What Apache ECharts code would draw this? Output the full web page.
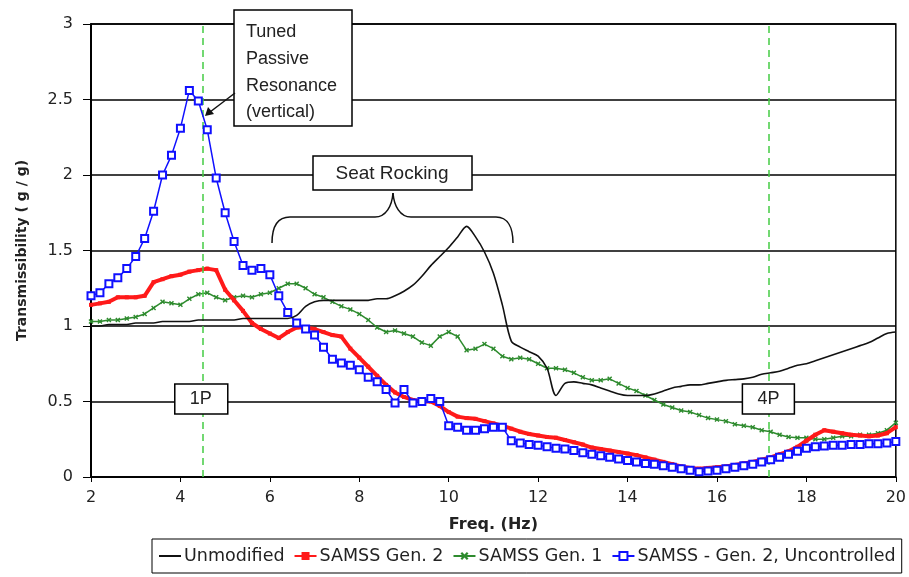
<!DOCTYPE html>
<html><head><meta charset="utf-8">
<script src="https://cdn.jsdelivr.net/npm/echarts@6/dist/echarts.min.js"></script>
<style>html,body{margin:0;padding:0;background:#fff}#c{width:909px;height:577px}</style>
</head><body><div id="c"></div>
<script>
// ---- data ----
const freq = [2,2.2,2.4,2.6,2.8,3,3.2,3.4,3.6,3.8,
4,4.2,4.4,4.6,4.8,5,5.2,5.4,5.6,5.8,
6,6.2,6.4,6.6,6.8,7,7.2,7.4,7.6,7.8,
8,8.2,8.4,8.6,8.8,9,9.2,9.4,9.6,9.8,
10,10.2,10.4,10.6,10.8,11,11.2,11.4,11.6,11.8,
12,12.2,12.4,12.6,12.8,13,13.2,13.4,13.6,13.8,
14,14.2,14.4,14.6,14.8,15,15.2,15.4,15.6,15.8,
16,16.2,16.4,16.6,16.8,17,17.2,17.4,17.6,17.8,
18,18.2,18.4,18.6,18.8,19,19.2,19.4,19.6,19.8,
20];
const unmodified = [1.00,1.00,1.01,1.01,1.01,1.02,1.02,1.02,1.03,1.03,
1.03,1.03,1.04,1.04,1.04,1.04,1.04,1.05,1.05,1.05,
1.05,1.05,1.05,1.07,1.13,1.16,1.17,1.17,1.17,1.17,
1.17,1.17,1.18,1.18,1.20,1.23,1.27,1.33,1.40,1.46,
1.52,1.59,1.66,1.59,1.49,1.35,1.14,0.90,0.86,0.83,
0.80,0.72,0.54,0.62,0.63,0.62,0.61,0.59,0.57,0.55,
0.54,0.54,0.54,0.55,0.57,0.59,0.60,0.61,0.61,0.62,
0.63,0.64,0.645,0.65,0.66,0.68,0.69,0.70,0.72,0.74,
0.75,0.77,0.79,0.81,0.83,0.85,0.87,0.89,0.92,0.95,
0.96];
const gen2 = [1.14,1.15,1.16,1.19,1.19,1.19,1.20,1.29,1.31,1.33,
1.34,1.36,1.37,1.38,1.37,1.24,1.17,1.10,1.02,0.98,
0.95,0.92,0.96,0.99,0.99,0.98,0.96,0.94,0.93,0.85,
0.79,0.73,0.67,0.61,0.56,0.53,0.51,0.50,0.50,0.47,
0.43,0.40,0.39,0.385,0.37,0.355,0.34,0.32,0.30,0.285,
0.275,0.265,0.26,0.245,0.23,0.215,0.195,0.185,0.175,0.165,
0.155,0.145,0.13,0.115,0.10,0.085,0.07,0.06,0.055,0.06,
0.065,0.07,0.08,0.09,0.10,0.115,0.13,0.15,0.17,0.20,
0.24,0.28,0.31,0.30,0.29,0.28,0.275,0.27,0.275,0.29,
0.33];
const gen1 = [1.03,1.03,1.04,1.04,1.05,1.06,1.08,1.12,1.16,1.15,
1.14,1.18,1.21,1.22,1.19,1.17,1.19,1.20,1.19,1.21,
1.22,1.25,1.28,1.28,1.25,1.21,1.19,1.16,1.13,1.11,
1.08,1.04,0.99,0.96,0.97,0.95,0.93,0.89,0.87,0.93,
0.96,0.93,0.84,0.85,0.88,0.85,0.80,0.78,0.79,0.78,
0.75,0.72,0.72,0.71,0.69,0.66,0.64,0.64,0.65,0.62,
0.59,0.57,0.54,0.51,0.48,0.46,0.44,0.43,0.41,0.39,
0.38,0.37,0.35,0.34,0.33,0.31,0.30,0.28,0.265,0.26,
0.26,0.25,0.25,0.26,0.27,0.27,0.28,0.28,0.29,0.31,
0.36];
const gen2Unc = [1.20,1.22,1.28,1.32,1.38,1.46,1.58,1.76,2.00,2.13,
2.31,2.56,2.49,2.30,1.98,1.75,1.56,1.40,1.37,1.38,
1.34,1.20,1.09,1.02,0.98,0.94,0.86,0.78,0.755,0.74,
0.71,0.66,0.63,0.58,0.49,0.58,0.49,0.50,0.52,0.50,
0.34,0.33,0.31,0.31,0.32,0.33,0.33,0.24,0.225,0.215,
0.21,0.20,0.19,0.185,0.175,0.16,0.15,0.14,0.13,0.12,
0.11,0.10,0.09,0.085,0.075,0.065,0.055,0.045,0.035,0.04,
0.045,0.055,0.065,0.075,0.085,0.10,0.115,0.13,0.15,0.17,
0.19,0.20,0.205,0.21,0.21,0.215,0.215,0.22,0.22,0.225,
0.235];
const seriesNames = ['Unmodified','SAMSS Gen. 2','SAMSS Gen. 1','SAMSS - Gen. 2, Uncontrolled'];
const refLines = [4.5, 17.15];
const refLabels = ['1P', '4P'];

// ---- chart ----
const pair = ys => freq.map((f, i) => [f, ys[i]]);
const FONT = 'DejaVu Sans';
const chart = echarts.init(document.getElementById('c'), null, {renderer: 'canvas'});
const xShape = 'path://M0,2L2,0L5,3L8,0L10,2L7,5L10,8L8,10L5,7L2,10L0,8L3,5Z';

chart.setOption({
  animation: false,
  backgroundColor: '#fff',
  grid: {left: 91, right: 13, top: 24, bottom: 100, show: true, borderColor: '#000', borderWidth: 1.5, backgroundColor: 'transparent'},
  xAxis: {
    type: 'value', min: 2, max: 20, interval: 2,
    name: 'Freq. (Hz)', nameLocation: 'middle', nameGap: 40,
    nameTextStyle: {fontFamily: FONT, fontSize: 16, fontWeight: 'bold', color: '#222'},
    axisLine: {lineStyle: {color: '#000', width: 1.5}},
    axisTick: {show: true, inside: false, length: 5, lineStyle: {color: '#000'}},
    axisLabel: {fontFamily: FONT, fontSize: 16, color: '#222', margin: 13},
    splitLine: {show: false}
  },
  yAxis: {
    type: 'value', min: 0, max: 3, interval: 0.5,
    name: 'Transmissibility ( g / g)', nameLocation: 'middle', nameGap: 62, nameRotate: 90,
    nameTextStyle: {fontFamily: FONT, fontSize: 14, fontWeight: 'bold', color: '#222'},
    axisLine: {show: true, lineStyle: {color: '#000', width: 2}},
    axisTick: {show: true, inside: false, length: 8, lineStyle: {color: '#000'}},
    axisLabel: {fontFamily: FONT, fontSize: 16, color: '#222', margin: 18},
    splitLine: {show: true, lineStyle: {color: '#000', width: 1.5}}
  },
  legend: {
    data: seriesNames,
    left: 152, top: 539, width: 760,
    borderColor: '#000', borderWidth: 1, borderRadius: 0,
    padding: [8, 6], itemGap: 9, itemWidth: 22, itemHeight: 10,
    textStyle: {fontFamily: FONT, fontSize: 17.5, color: '#222', padding: [0, 0, 0, -2]}
  },
  series: [
    {
      name: 'ref', type: 'line', data: [], silent: true,
      markLine: {
        silent: true, symbol: ['none', 'none'], label: {show: false},
        lineStyle: {color: '#44cc44', type: [7, 5], width: 1.5},
        data: refLines.map(v => ({xAxis: v}))
      }
    },
    {
      name: seriesNames[2], type: 'line', data: pair(gen1), z: 3,
      color: '#2e8b2e', lineStyle: {width: 1.5, color: '#2e8b2e'},
      symbol: xShape, symbolSize: 5, itemStyle: {color: '#2e8b2e'}
    },
    {
      name: seriesNames[1], type: 'line', data: pair(gen2), z: 4,
      color: '#ff1a1a', lineStyle: {width: 4, color: '#ff1a1a'},
      symbol: 'rect', symbolSize: 4, itemStyle: {color: '#ff1a1a'}
    },
    {
      name: seriesNames[3], type: 'line', data: pair(gen2Unc), z: 5,
      color: '#1010ff', lineStyle: {width: 1.5, color: '#1010ff'},
      symbol: 'emptyRect', symbolSize: 7, itemStyle: {color: '#1010ff', borderWidth: 1.3}
    },
    {
      name: seriesNames[0], type: 'line', data: pair(unmodified), z: 6,
      smooth: 0.3, color: '#111', lineStyle: {width: 1.6, color: '#111'},
      symbol: 'none', showSymbol: false, itemStyle: {opacity: 0}
    }
  ]
});

// ---- annotations ----
const boxStyle = {fill: '#fff', stroke: '#000', lineWidth: 1.5};
const ink = {stroke: '#111', lineWidth: 1.5, fill: 'none'};
const txt = (x, y, s, size, align) => ({
  type: 'text', x: x, y: y, z: 100,
  style: {text: s, fontFamily: 'Liberation Sans', fontSize: size, fill: '#222', align: align || 'left', verticalAlign: 'middle'}
});
const bez = (x1, y1, c1x, c1y, c2x, c2y, x2, y2) => ({type: 'bezierCurve', z: 95,
  shape: {x1: x1, y1: y1, cpx1: c1x, cpy1: c1y, cpx2: c2x, cpy2: c2y, x2: x2, y2: y2}, style: ink});
const seg = (x1, y1, x2, y2) => ({type: 'line', z: 95, shape: {x1: x1, y1: y1, x2: x2, y2: y2}, style: ink});
const p45 = chart.convertToPixel({xAxisIndex: 0}, refLines[0]);
const p172 = chart.convertToPixel({xAxisIndex: 0}, refLines[1]);
chart.setOption({
  graphic: [
    {type: 'rect', shape: {x: 234, y: 10, width: 118, height: 116}, style: boxStyle, z: 90},
    txt(246, 32, 'Tuned', 18), txt(246, 59, 'Passive', 18), txt(246, 86, 'Resonance', 18), txt(246, 112, '(vertical)', 18),
    seg(235, 93, 210, 112),
    {type: 'polygon', shape: {points: [[205, 116], [208, 107], [214, 114]]}, style: {fill: '#111'}, z: 95},
    {type: 'rect', shape: {x: 313, y: 156, width: 159, height: 34}, style: boxStyle, z: 90},
    txt(392, 174, 'Seat Rocking', 19, 'center'),
    bez(272, 243, 272, 228, 276, 217, 290, 217),
    seg(290, 217, 375, 217),
    bez(375, 217, 386, 217, 392, 206, 393, 193),
    bez(393, 193, 394, 206, 400, 217, 411, 217),
    seg(411, 217, 496, 217),
    bez(496, 217, 508, 217, 513, 228, 513, 243),
    {type: 'rect', shape: {x: p45 - 28, y: 384, width: 53, height: 30}, style: boxStyle, z: 90},
    txt(p45 - 2, 399, refLabels[0], 18, 'center'),
    {type: 'rect', shape: {x: p172 - 26, y: 384, width: 52, height: 30}, style: boxStyle, z: 90},
    txt(p172, 399, refLabels[1], 18, 'center')
  ]
});
</script>
</body></html>
